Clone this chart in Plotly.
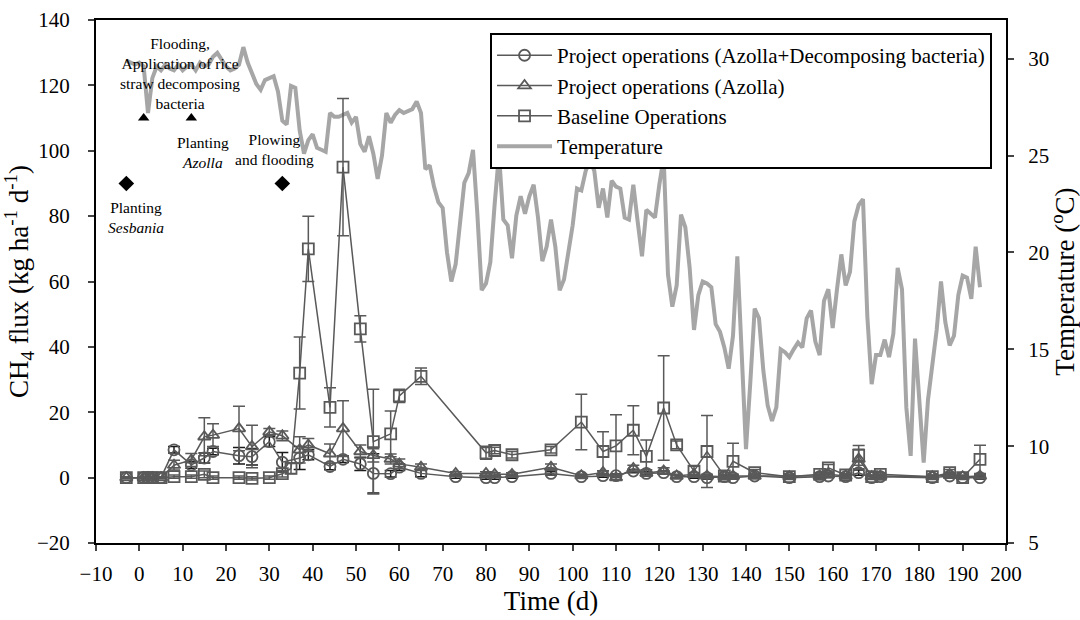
import plotly.graph_objects as go

# ---------------- data ----------------
base_days = [-3, 1, 2, 3, 5, 8, 12, 15, 17, 23, 26, 30, 33, 35, 37, 39, 44, 47, 51, 54, 58, 60, 65,
             80, 82, 86, 95, 102, 107, 110, 114, 117, 121, 124, 128, 131, 135, 137, 142, 150, 157,
             159, 163, 166, 169, 171, 183, 187, 190, 194]
base_vals = [0, 0, 0, 0, 0, 0.3, 0.3, 1, 0, 0, -0.2, 0, 1.2, 2.8, 32, 70, 21.5, 95, 45.5, 11, 13.4, 25, 31,
             7.6, 8.3, 7, 8.5, 17, 8, 9.7, 14.5, 6.5, 21.3, 10, 2, 8, 0.5, 5, 1.5, 0.3, 1,
             3, 0.8, 6.8, 0.3, 1, 0.3, 1.5, 0, 5.6]
base_err = [0.3, 0.3, 0.3, 0.3, 0.3, 0.5, 0.5, 1, 0.5, 0.5, 0.5, 0.5, 1, 1.5, 11, 10, 6, 21, 4, 16, 7, 2, 2.5,
            2, 1, 1, 1, 8.5, 6, 9.5, 7.5, 5, 16, 1.2, 1.5, 11, 0.5, 5.5, 1, 0.8, 0.5,
            1, 0.5, 3, 0.5, 0.5, 0.5, 1, 0.5, 4.3]

proj_days = [-3, 1, 2, 3, 5, 8, 12, 15, 17, 23, 26, 30, 33, 37, 39, 44, 47, 51, 54, 58, 60, 65, 73,
             80, 82, 86, 95, 102, 107, 110, 114, 117, 121, 124, 128, 131, 135, 137, 142, 150, 157,
             159, 163, 166, 169, 171, 183, 187, 190, 194]
azolla_vals = [0, 0, 0, 0, 0, 3.8, 5.4, 12.5, 13, 15, 9.5, 14, 12.8, 8.5, 10, 7.3, 15, 8, 6.8, 5.7, 4.2, 3.2, 1.3,
               1.3, 1, 1, 3.2, 0.6, 1.6, 0, 2.8, 1.4, 2, 0.5, 1, 0.5, 0.3, 0.5, 0.5, 0.3, 0.5,
               1, 0.5, 5.7, 0.3, 0.5, 0.3, 1, 0.3, 0.5]
azolla_err = [0.3, 0.3, 0.3, 0.3, 0.3, 1.5, 2, 5.8, 3.5, 6.8, 6.5, 1, 1.5, 4, 2, 3, 8.5, 2, 2, 1.5, 1.5, 1, 0.5,
              0.5, 0.5, 0.5, 1, 0.5, 0.5, 0.5, 1, 1, 1, 0.5, 0.5, 0.5, 0.5, 0.5, 0.5, 0.5, 0.5,
              0.5, 0.5, 3, 0.5, 0.5, 0.5, 0.5, 0.5, 0.5]
azb_vals = [0, 0, 0, 0, 0, 8.5, 3.9, 6, 8, 6.7, 6.4, 11, 4.7, 6, 7, 3.4, 5.6, 4.2, 1.3, 1.2, 3.2, 1.3, 0.3,
            0, 0, 0.3, 1.3, 0.3, 0.6, 0.6, 2, 1.3, 1.5, 0.3, 0.3, 0, 0.3, 0, 0.5, 0, 0.3,
            0.5, 0.3, 1.5, 0, 0.3, 0, 0.5, 0, 0]
azb_err = [0.3, 0.3, 0.3, 0.3, 0.3, 1, 1, 1.5, 1, 2.5, 2.5, 1.5, 3, 3.5, 1.5, 1, 1, 2, 6, 1, 1, 1, 0.5,
           0.5, 0.5, 0.5, 0.5, 0.5, 0.5, 0.5, 0.5, 0.5, 0.5, 0.5, 0.5, 0.5, 0.5, 0.5, 0.5, 0.5, 0.5,
           0.5, 0.5, 0.8, 0.5, 0.5, 0.5, 0.5, 0.5, 0.5]

temp_days = list(range(-3, 195))
temp_vals = [29.9, 29.8, 29.7, 29.8, 29.6, 27.2, 29.0, 29.6, 29.4, 29.7, 29.5, 29.4, 29.7, 29.4, 29.6, 29.7,
             29.4, 29.8, 29.6, 29.7, 30.1, 30.3, 29.9, 29.6, 29.4, 29.5, 29.7, 30.6, 29.8, 29.2, 28.7, 28.4,
             28.9, 29.0, 29.1, 28.3, 26.8, 26.6, 28.6, 28.5, 26.3, 25.1, 25.8, 26.1, 25.4, 25.3, 25.2, 27.2,
             27.0, 27.0, 27.1, 27.2, 26.7, 27.0, 25.6, 25.2, 26.0, 25.1, 23.8, 25.0, 27.2, 26.7, 27.1, 27.35,
             27.2, 27.3, 27.4, 27.8, 27.2, 24.3, 24.5, 23.4, 22.6, 22.3, 20.0, 18.5, 19.4, 21.5, 23.6, 24.1,
             25.3, 22.0, 18.05, 18.4, 19.5, 22.5, 25.1, 21.7, 21.4, 19.7, 21.9, 22.9, 22.0, 22.9, 23.5, 21.8,
             19.55, 20.3, 21.7, 20.3, 18.05, 18.6, 20.0, 21.4, 23.3, 23.2, 24.2, 24.8, 24.2, 22.3, 23.3, 21.8,
             23.7, 23.4, 23.3, 21.8, 21.7, 23.5, 21.6, 19.8, 22.2, 22.0, 21.8, 23.5, 24.9, 18.85, 17.2, 18.3,
             21.95, 21.3, 19.2, 16.0, 17.8, 18.5, 18.4, 18.2, 16.3, 15.9, 15.1, 14.0, 15.7, 19.8, 15.1, 9.85,
             13.3, 17.1, 16.6, 13.9, 12.1, 11.3, 12.0, 15.0, 14.85, 14.6, 15.0, 15.35, 15.1, 16.6, 17.0, 15.4,
             14.7, 17.5, 18.1, 16.1, 18.1, 19.9, 18.3, 19.0, 21.6, 22.45, 22.75, 16.7, 13.2, 14.7, 14.7, 15.5,
             14.6, 15.8, 19.2, 18.1, 12.0, 9.5, 15.55, 12.0, 9.15, 12.4, 14.4, 16.0, 18.5, 16.4, 15.2, 15.7,
             17.8, 18.8, 18.7, 17.6, 20.3, 18.2]

event_diamond_days = [-3, 33]
event_diamond_vals = [90, 90]
event_tri_days = [1, 12]
event_tri_vals = [110, 110]

x_ticks = list(range(-10, 201, 10))
ch4_ticks = list(range(-20, 141, 20))
temp_ticks = [5, 10, 15, 20, 25, 30]

# ---------------- figure ----------------
FONT = "Liberation Serif"
GRAY = "#595959"
TGRAY = "#A6A6A6"

fig = go.Figure()

fig.add_trace(go.Scatter(
    x=temp_days, y=temp_vals, mode="lines", name="Temperature",
    line=dict(color=TGRAY, width=4), yaxis="y", legendrank=4))

fig.add_trace(go.Scatter(
    x=proj_days, y=azb_vals, mode="lines+markers",
    name="Project operations (Azolla+Decomposing bacteria)",
    line=dict(color=GRAY, width=1.5),
    marker=dict(symbol="circle-open", size=11, color=GRAY, line=dict(width=1.8)),
    error_y=dict(type="data", array=azb_err, color="#1a1a1a", thickness=1.5, width=6),
    yaxis="y2", legendrank=1))

fig.add_trace(go.Scatter(
    x=proj_days, y=azolla_vals, mode="lines+markers",
    name="Project operations (Azolla)",
    line=dict(color=GRAY, width=1.5),
    marker=dict(symbol="triangle-up-open", size=11, color=GRAY, line=dict(width=1.8)),
    error_y=dict(type="data", array=azolla_err, color=GRAY, thickness=1.5, width=6),
    yaxis="y2", legendrank=2))

fig.add_trace(go.Scatter(
    x=base_days, y=base_vals, mode="lines+markers",
    name="Baseline Operations",
    line=dict(color=GRAY, width=1.5),
    marker=dict(symbol="square-open", size=11, color=GRAY, line=dict(width=1.8)),
    error_y=dict(type="data", array=base_err, color=GRAY, thickness=1.5, width=6),
    yaxis="y2", legendrank=3))

fig.add_trace(go.Scatter(
    x=event_diamond_days, y=event_diamond_vals, mode="markers", showlegend=False,
    marker=dict(symbol="diamond", size=12, color="black"), yaxis="y2"))
fig.add_trace(go.Scatter(
    x=event_tri_days, y=event_tri_vals, mode="markers", showlegend=False,
    marker=dict(symbol="triangle-up", size=10, color="black"), yaxis="y2"))

ann_font = dict(family=FONT, size=15.5, color="black")
annotations = [
    dict(x=9.4, y=123.5, text="Flooding,<br>Application of rice<br>straw decomposing<br>bacteria"),
    dict(x=14.8, y=99.5, text="Planting<br><i>Azolla</i>"),
    dict(x=31.3, y=100.4, text="Plowing<br>and flooding"),
    dict(x=-0.8, y=79.6, text="Planting<br><i>Sesbania</i>"),
]
for a in annotations:
    a.update(xref="x", yref="y2", showarrow=False, font=ann_font, xanchor="center", yanchor="middle")

fig.update_layout(
    width=1080, height=620,
    margin=dict(l=96, r=74, t=20, b=77, autoexpand=False),
    paper_bgcolor="white", plot_bgcolor="white",
    font=dict(family=FONT, size=21, color="black"),
    showlegend=True,
    legend=dict(x=0.433, y=0.975, xanchor="left", yanchor="top",
                bordercolor="black", borderwidth=2, bgcolor="white",
                font=dict(family=FONT, size=21), itemwidth=55,
                tracegroupgap=0, traceorder="normal"),
    xaxis=dict(range=[-10, 200], tickvals=x_ticks, ticks="outside", ticklen=6, tickwidth=1.5,
               showline=True, linecolor="black", linewidth=2, mirror=True, showgrid=False,
               zeroline=False, ticklabelstandoff=5, automargin=False,
               title=dict(text="Time (d)", font=dict(size=27), standoff=4),
               tickfont=dict(size=21)),
    yaxis=dict(range=[5, 32], tickvals=temp_ticks, side="right", ticks="outside", ticklen=6,
               tickwidth=1.5, showline=True, linecolor="black", linewidth=2, showgrid=False,
               zeroline=False, ticklabelstandoff=10, automargin=False,
               title=dict(text="Temperature (<sup>o</sup>C)", font=dict(size=27), standoff=0),
               tickfont=dict(size=21)),
    yaxis2=dict(range=[-20, 140], tickvals=ch4_ticks, side="left", overlaying="y", ticks="outside",
                ticklen=6, tickwidth=1.5, showline=True, linecolor="black", linewidth=2,
                showgrid=False, zeroline=False, ticklabelstandoff=14, automargin=False,
                title=dict(text="CH<sub>4</sub> flux (kg ha<sup>-1</sup> d<sup>-1</sup>)",
                           font=dict(size=27), standoff=2),
                tickfont=dict(size=21)),
    annotations=annotations,
)

fig.write_html("out.html")
